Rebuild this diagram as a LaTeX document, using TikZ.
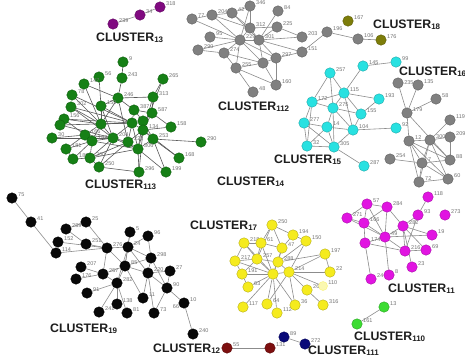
\documentclass[tikz,border=0pt]{standalone}
\usepackage{fontspec}
\setmainfont{Liberation Sans}
\pgfdeclarelayer{bg}
\pgfdeclarelayer{paper}
\pgfsetlayers{paper,bg,main}
\definecolor{cgreen}{RGB}{22,128,22}
\definecolor{cgray}{RGB}{128,128,128}
\definecolor{ccyan}{RGB}{40,225,225}
\definecolor{cblack}{RGB}{8,8,8}
\definecolor{cyellow}{RGB}{245,235,30}
\definecolor{cmag}{RGB}{225,20,225}
\definecolor{cpurple}{RGB}{128,10,128}
\definecolor{colive}{RGB}{125,125,10}
\definecolor{clgreen}{RGB}{60,220,50}
\definecolor{cnavy}{RGB}{10,10,120}
\definecolor{cred}{RGB}{125,15,15}
\definecolor{clabel}{RGB}{30,30,30}
\tikzset{
  vt/.style={circle,inner sep=0pt,minimum size=10.5pt,draw=#1!75!black,line width=0.4pt,fill=#1},
  lbl/.style={font=\fontsize{5.5}{6}\selectfont,text=black!55,inner sep=0.6pt},
  edg/.style={draw=black!45,line width=0.6pt},
  edk/.style={draw=black!65,line width=0.6pt},
  cl/.style={font=\fontsize{12.3}{14}\selectfont\bfseries,text=clabel,inner sep=0pt,anchor=base west},
}
\newcommand\vx[5]{\node[vt=#1,label={[lbl]5:#5}] (#2) at (#3,#4) {};}
\newcommand\clab[2]{CLUSTER\raisebox{-1.6pt}{\fontsize{8}{8}\selectfont #2}}
\begin{document}
\begin{tikzpicture}[x=1pt,y=-1pt]
\useasboundingbox (0,0) rectangle (465,360);
\begin{pgfonlayer}{paper}
\fill[white] (0,0) rectangle (465,360);
\end{pgfonlayer}
% ---- CLUSTER13
\vx{cpurple}{p239}{113}{24}{239}
\vx{cpurple}{p34}{140}{15}{34}
\vx{cpurple}{p318}{160}{7}{318}
% ---- CLUSTER112
\vx{cgray}{a77}{192}{19}{77}
\vx{cgray}{a204}{212}{15}{204}
\vx{cgray}{a42}{232}{13}{42}
\vx{cgray}{a346}{250}{6}{346}
\vx{cgray}{a84}{278}{11}{84}
\vx{cgray}{a312}{250}{28}{312}
\vx{cgray}{a225}{277}{27}{225}
\vx{cgray}{a95}{210}{37}{95}
\vx{cgray}{a229}{240}{40}{229}
\vx{cgray}{a301}{259}{40}{301}
\vx{cgray}{a203}{302}{37}{203}
\vx{cgray}{a290}{198}{50}{290}
\vx{cgray}{a274}{224}{53}{274}
\vx{cgray}{a297}{276}{58}{297}
\vx{cgray}{a151}{302}{52}{151}
\vx{cgray}{a255}{236}{68}{255}
\vx{cgray}{a263}{263}{63}{}
\vx{cgray}{a160}{276}{85}{160}
\vx{cgray}{a48}{253}{92}{48}
\vx{cgray}{a196}{327}{32}{196}
\vx{cgray}{a106}{358}{39}{106}
\vx{colive}{o167}{348}{21}{167}
\vx{colive}{o176}{381}{40}{176}
% ---- CLUSTER113
\vx{cgreen}{g9}{123}{62}{9}
\vx{cgreen}{g243}{122}{78}{243}
\vx{cgreen}{g56}{99}{77}{56}
\vx{cgreen}{g147}{84}{84}{147}
\vx{cgreen}{g265}{163}{79}{265}
\vx{cgreen}{g78}{72}{95}{78}
\vx{cgreen}{g246}{118}{98}{246}
\vx{cgreen}{g313}{153}{97}{313}
\vx{cgreen}{g302}{71}{107}{302}
\vx{cgreen}{g159}{101}{106}{159}
\vx{cgreen}{g387}{134}{110}{387}
\vx{cgreen}{g279}{152}{113}{587}
\vx{cgreen}{g64}{64}{119}{156}
\vx{cgreen}{g60}{60}{125}{}
\vx{cgreen}{g101}{101}{124}{}
\vx{cgreen}{g132}{132}{123}{200}
\vx{cgreen}{g143}{143}{121}{}
\vx{cgreen}{g158}{171}{127}{158}
\vx{cgreen}{g134}{143}{130}{134}
\vx{cgreen}{g30}{52}{138}{30}
\vx{cgreen}{g85}{85}{135}{166}
\vx{cgreen}{g113}{113}{138}{204}
\vx{cgreen}{g128}{128}{142}{221}
\vx{cgreen}{g253}{153}{139}{253}
\vx{cgreen}{g290}{201}{142}{290}
\vx{cgreen}{g92}{92}{141}{182}
\vx{cgreen}{g181}{66}{149}{181}
\vx{cgreen}{g306}{138}{149}{306}
\vx{cgreen}{g73}{73}{159}{189}
\vx{cgreen}{g90}{90}{158}{200}
\vx{cgreen}{g168}{179}{158}{168}
\vx{cgreen}{g99}{99}{167}{250}
\vx{cgreen}{g296}{139}{172}{296}
\vx{cgreen}{g199}{166}{172}{199}
% ---- CLUSTER15
\vx{ccyan}{c145}{363}{66}{145}
\vx{ccyan}{c99}{396}{62}{99}
\vx{ccyan}{c257}{330}{73}{257}
\vx{ccyan}{c115}{344}{93}{115}
\vx{ccyan}{c193}{379}{99}{193}
\vx{ccyan}{c172}{312}{102}{172}
\vx{ccyan}{c275}{333}{108}{275}
\vx{ccyan}{c155}{361}{114}{155}
\vx{ccyan}{c277}{304}{123}{277}
\vx{ccyan}{c14}{327}{127}{14}
\vx{ccyan}{c104}{353}{130}{104}
\vx{ccyan}{c92}{396}{128}{92}
\vx{ccyan}{c32}{307}{146}{32}
\vx{ccyan}{c305}{334}{147}{305}
\vx{ccyan}{c287}{364}{166}{287}
% ---- CLUSTER16
\node[vt=cgray,label={[lbl]0:235}] (d235) at (398,83) {};
\vx{cgray}{d135}{418}{85}{135}
\vx{cgray}{d58}{436}{99}{58}
\vx{cgray}{d179}{407}{113}{179}
\vx{cgray}{d119}{450}{120}{119}
\vx{cgray}{d12}{409}{141}{12}
\vx{cgray}{d300}{430}{140}{300}
\vx{cgray}{d209}{450}{137}{209}
\vx{cgray}{d254}{390}{159}{254}
\vx{cgray}{d7}{422}{163}{7}
\vx{cgray}{d88}{450}{160}{88}
\vx{cgray}{d72}{419}{182}{72}
\vx{cgray}{d60}{448}{179}{60}
% ---- CLUSTER19
\vx{cblack}{b75}{12}{198}{75}
\vx{cblack}{b41}{31}{222}{41}
\vx{cblack}{b25}{86}{222}{25}
\vx{cblack}{b289}{66}{229}{289}
\vx{cblack}{b152}{58}{242}{152}
\vx{cblack}{b251}{86}{244}{251}
\vx{cblack}{b114}{56}{253}{114}
\vx{cblack}{b5}{130}{232}{5}
\vx{cblack}{b96}{148}{236}{96}
\vx{cblack}{b276}{107}{248}{276}
\vx{cblack}{b24}{128}{247}{24}
\vx{cblack}{b298}{151}{258}{298}
\vx{cblack}{b207}{81}{267}{207}
\vx{cblack}{b85}{125}{266}{85}
\vx{cblack}{b176}{76}{279}{176}
\vx{cblack}{b257}{103}{274}{257}
\vx{cblack}{b220}{148}{273}{220}
\vx{cblack}{b27}{170}{271}{27}
\vx{cblack}{b282}{117}{283}{282}
\vx{cblack}{b91}{87}{293}{91}
\vx{cblack}{b90}{167}{288}{90}
\vx{cblack}{b11}{143}{298}{11}
\vx{cblack}{b138}{117}{304}{138}
\vx{cblack}{b241}{99}{312}{241}
\vx{cblack}{b81}{127}{313}{81}
\vx{cblack}{b73}{154}{313}{73}
\vx{cblack}{b10}{184}{303}{10}
\vx{cblack}{b240}{193}{334}{240}
\node[lbl] (t66) at (176,307) {66};
% ---- CLUSTER17
\vx{cyellow}{y250}{272}{225}{250}
\vx{cyellow}{y194}{293}{235}{194}
\vx{cyellow}{y150}{306}{241}{150}
\vx{cyellow}{y218}{244}{243}{218}
\vx{cyellow}{y261}{261}{243}{61}
\vx{cyellow}{y282}{282}{248}{47}
\vx{cyellow}{y217}{235}{261}{217}
\vx{cyellow}{y257}{257}{259}{257}
\vx{cyellow}{y278}{278}{262}{288}
\vx{cyellow}{y197}{325}{254}{197}
\vx{cyellow}{y191}{242}{274}{191}
\vx{cyellow}{y273}{273}{274}{}
\vx{cyellow}{y214}{289}{272}{214}
\vx{cyellow}{y22}{330}{272}{22}
\vx{cyellow}{y63}{248}{287}{63}
\vx{cyellow}{y260}{307}{290}{260}
\node[circle,inner sep=0pt,minimum size=9pt,draw=cyellow!60,fill=cyellow!35,label={[lbl]5:110}] (y110) at (323,286) {};
\vx{cyellow}{y117}{243}{307}{117}
\vx{cyellow}{y64}{267}{304}{64}
\vx{cyellow}{y112}{277}{313}{112}
\vx{cyellow}{y36}{295}{305}{36}
\vx{cyellow}{y316}{323}{305}{316}
% ---- CLUSTER11
\vx{cmag}{m118}{428}{197}{118}
\vx{cmag}{m57}{367}{204}{57}
\vx{cmag}{m284}{387}{207}{284}
\vx{cmag}{m93}{418}{215}{93}
\vx{cmag}{m273}{445}{215}{273}
\vx{cmag}{m271}{347}{218}{271}
\vx{cmag}{m166}{364}{223}{166}
\vx{cmag}{m282}{403}{226}{282}
\vx{cmag}{m49}{385}{237}{49}
\vx{cmag}{m19}{432}{235}{19}
\vx{cmag}{m174}{365}{243}{174}
\vx{cmag}{m216}{405}{251}{216}
\vx{cmag}{m69}{426}{250}{69}
\vx{cmag}{m23}{412}{267}{23}
\vx{cmag}{m24}{371}{279}{24}
\vx{cmag}{m8}{389}{275}{8}
% ---- small clusters
\vx{clgreen}{l13}{384}{307}{13}
\vx{clgreen}{l161}{357}{324}{161}
\vx{cnavy}{n89}{284}{337}{89}
\vx{cnavy}{n272}{305}{344}{272}
\vx{cred}{r55}{227}{348}{55}
\vx{cred}{r131}{270}{348}{131}
% ---- cluster captions
\node[cl] (k13) at (96,41) {\clab{}{13}};
\node[cl] (k18) at (373,28) {\clab{}{18}};
\node[cl] (k16) at (399,75) {\clab{}{16}};
\node[cl] (k112) at (218,110) {\clab{}{112}};
\node[cl] (k15) at (274,163) {\clab{}{15}};
\node[cl] (k113) at (85,188) {\clab{}{113}};
\node[cl] (k14) at (217,185) {\clab{}{14}};
\node[cl] (k17) at (190,229) {\clab{}{17}};
\node[cl] (k11) at (388,292) {\clab{}{11}};
\node[cl] (k19) at (50,332) {\clab{}{19}};
\node[cl] (k110) at (354,340) {\clab{}{110}};
\node[cl] (k12) at (153,352) {\clab{}{12}};
\node[cl] (k111) at (308,354) {\clab{}{111}};
% ---- edges
\begin{pgfonlayer}{bg}
\foreach \a/\b in {p239/p34,p34/p318,
 a77/a204,a77/a229,a204/a42,a204/a229,a204/a312,a42/a346,a42/a312,a42/a301,a346/a312,a346/a229,a84/a301,
 a312/a229,a312/a301,a312/a225,a225/a301,a225/a203,a95/a229,a229/a301,a229/a274,a229/a290,a229/a255,
 a229/a263,a229/a297,a301/a203,a301/a297,a301/a263,a301/a151,a290/a274,a274/a255,a274/a263,a255/a263,
 a255/a48,a263/a297,a263/a160,a297/a151,a297/a160,a255/a160,a151/a196,a196/a106,a106/o176,
 c145/c99,c145/c115,c257/c172,c257/c115,c257/c275,c115/c193,c115/c172,c115/c275,c115/c155,c172/c275,
 c172/c277,c275/c155,c275/c14,c275/c104,c277/c14,c277/c32,c14/c104,c14/c305,c14/c32,c104/c155,
 c104/c305,c104/c92,c32/c305,c305/c287,c172/c32,c115/c104,c277/c305,c275/c305,c193/c155,
 d235/d179,d135/d179,d58/d179,d179/d12,d179/d88,d12/d300,d12/d7,d12/d72,d12/d60,d300/d209,d300/d119,
 d300/d7,d300/d88,d254/d7,d7/d72,d7/d60,d7/d88,d72/d60,d209/d88,d300/d60,d12/d88,d300/d72,
 b75/b41,b41/b114,b114/b276,b152/b276,b289/b25,b25/b276,b251/b276,b289/b251,b276/b24,b276/b85,b5/b24,b96/b24,
 b24/b85,b24/b298,b24/b220,b24/b282,b5/b85,b298/b220,b298/b85,b207/b257,b176/b257,b257/b85,
 b257/b282,b85/b282,b85/b220,b220/b27,b220/b90,b220/b11,b27/b90,b90/b10,b90/b73,b282/b91,
 b282/b138,b282/b241,b282/b81,b10/b240,b85/b11,b220/b73,b298/b90,b276/b257,b96/b298,
 y250/y261,y250/y282,y250/y194,y250/y257,y194/y282,y194/y150,y150/y214,y218/y261,y218/y217,y218/y257,
 y261/y282,y261/y257,y261/y273,y282/y278,y282/y273,y217/y257,y217/y191,y257/y273,y257/y278,y257/y191,
 y278/y273,y278/y214,y278/y197,y197/y214,y197/y22,y191/y273,y191/y63,y273/y214,y273/y63,y273/y117,
 y273/y64,y273/y112,y273/y36,y214/y22,y214/y260,y214/y36,y260/y316,y214/y64,y278/y150,y218/y273,
 y214/y110,y217/y273,
 m118/m93,m57/m271,m57/m166,m57/m284,m57/m49,m284/m282,m284/m49,m284/m166,m93/m282,m271/m166,
 m271/m49,m166/m174,m166/m49,m282/m49,m282/m19,m282/m216,m282/m23,m49/m174,m49/m216,m49/m19,
 m174/m216,m174/m24,m49/m8,m216/m69,m93/m216,m282/m69,
 l13/l161,n89/n272,r55/r131}
 \draw[edg] (\a) -- (\b);
\foreach \a/\b in {g9/g243,g243/g246,g147/g246,g147/g101,g265/g313,g265/g134,g78/g101,g246/g313,
 g246/g387,g246/g101,g246/g128,g313/g279,g313/g306,g302/g101,g302/g132,g159/g101,g159/g132,g159/g113,
 g387/g279,g387/g132,g387/g143,g279/g134,g279/g158,g64/g101,g64/g85,g60/g113,g101/g132,g101/g113,
 g101/g85,g101/g92,g132/g143,g132/g113,g132/g128,g132/g134,g143/g253,g143/g134,g158/g134,g134/g253,
 g134/g128,g30/g85,g30/g113,g85/g92,g85/g113,g85/g181,g113/g128,g113/g92,g113/g306,g113/g90,
 g128/g306,g128/g99,g253/g290,g253/g168,g253/g306,g92/g181,g92/g90,g92/g73,g306/g296,g306/g199,
 g306/g90,g90/g99,g99/g296,g73/g90,g296/g134,g199/g253,g168/g134,g99/g113,g181/g73,g132/g306,
 g56/g159,g78/g132,g302/g113,g60/g132,g64/g132,g159/g246,g143/g306,g128/g90,g92/g306}
 \draw[edk] (\a) -- (\b);
\end{pgfonlayer}
\end{tikzpicture}
\end{document}
